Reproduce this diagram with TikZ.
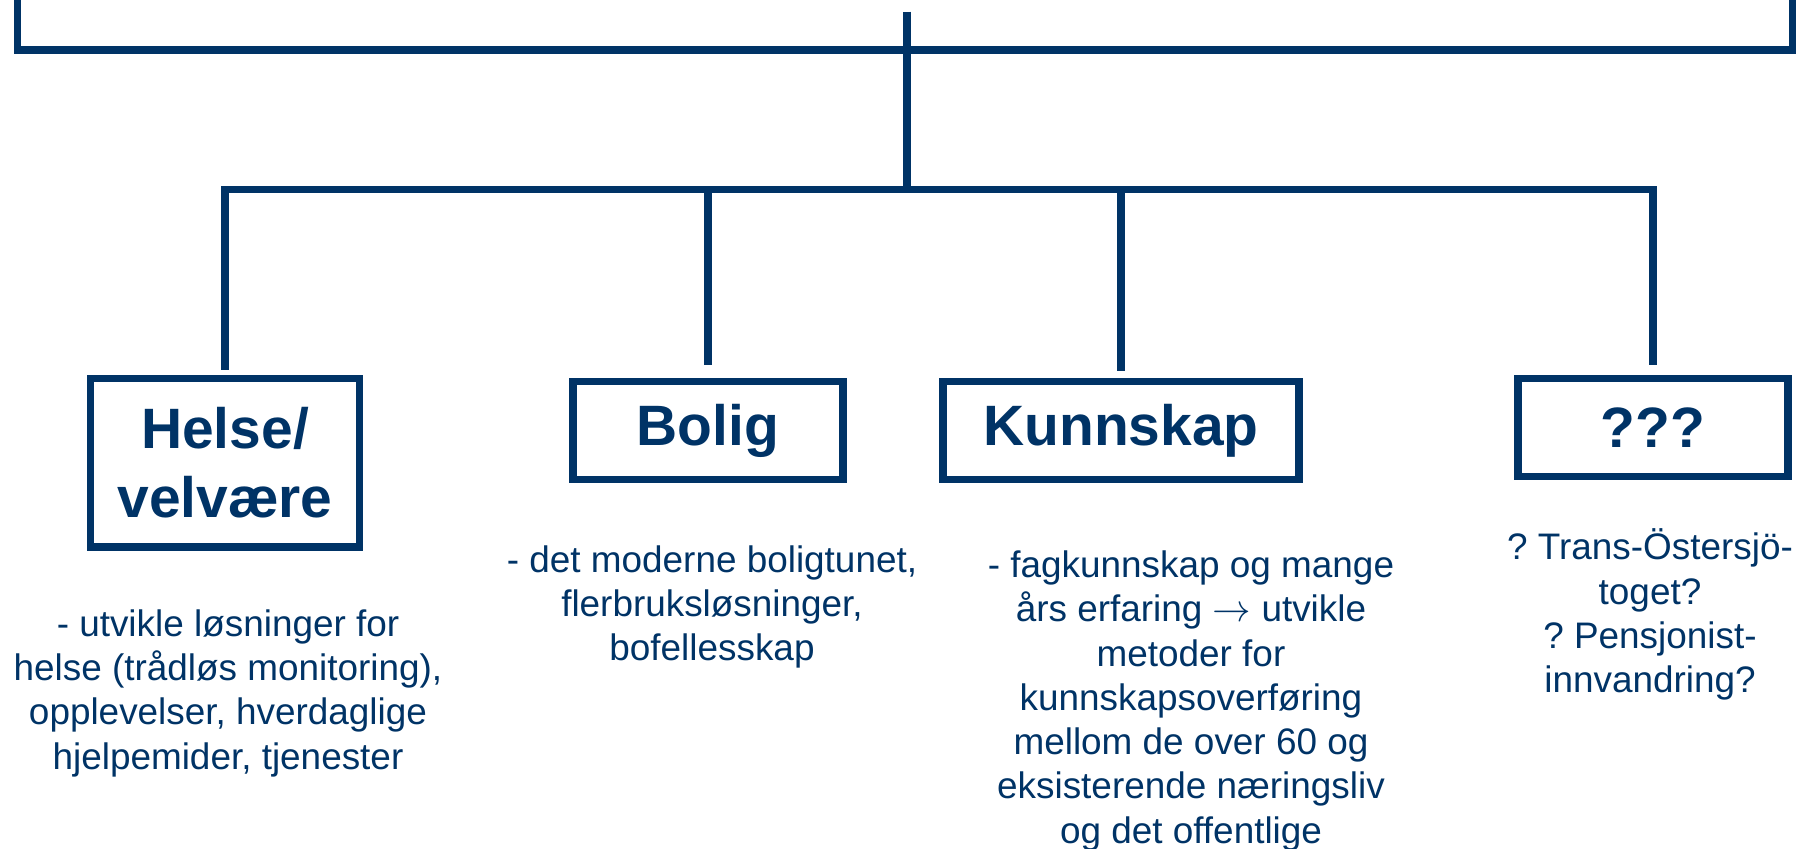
\documentclass[tikz,border=0pt]{standalone}
\usepackage{fontspec}
\setmainfont{Liberation Sans}
\usetikzlibrary{positioning,calc}
\definecolor{navy}{HTML}{003366}

\begin{document}
\frenchspacing
\begin{tikzpicture}[line width=2.1pt, color=navy,
  box/.style={draw, rectangle, inner sep=0pt, outer sep=0pt, minimum height=0.98cm,
    align=center, font=\fontsize{16.2pt}{19.6pt}\bfseries},
  desc/.style={anchor=north, align=center, inner sep=0pt,
    font=\fontsize{10.5pt}{12.6pt}\selectfont}]
\useasboundingbox (0,0) rectangle (17.97,-8.49);
\clip (0,0) rectangle (17.97,-8.49);
\node[box, minimum width=17.75cm, minimum height=1.5cm, anchor=south] (top) at (9.05,-0.50) {};
\coordinate (stem) at (9.07,-0.117);
\coordinate (bus) at (9.07,-1.895);
\node[box, minimum width=2.69cm, minimum height=1.687cm] (helse) at (2.25,-4.627) {Helse/\\velvære};
\node[box, minimum width=2.70cm] (bolig) at (7.08,-4.305) {Bolig};
\node[box, minimum width=3.56cm] (kunnskap) at (11.21,-4.305) {Kunnskap};
\node[box, minimum width=2.70cm] (ukjent) at (16.53,-4.273) {???};
\draw (stem) -- (bus);
\draw[line cap=rect] (helse.north |- bus) -- (ukjent.north |- bus);
\foreach \b/\gap in {helse/0.083cm,bolig/0.165cm,kunnskap/0.105cm,ukjent/0.132cm} {
  \draw[shorten >=\gap] (\b.north |- bus) -- (\b.north);
}
\node[desc] (helsetxt) at (2.28,-6.06) {- utvikle løsninger for\\helse (trådløs monitoring),\\opplevelser, hverdaglige\\hjelpemider, tjenester};
\node[desc] (boligtxt) at (7.12,-5.42) {- det moderne boligtunet,\\flerbruksløsninger,\\bofellesskap};
\node[desc] (kunnskaptxt) at (11.91,-5.47) {- fagkunnskap og mange\\års erfaring $\rightarrow$ utvikle\\metoder for\\kunnskapsoverføring\\mellom de over 60 og\\eksisterende næringsliv\\og det offentlige};
\node[desc] (ukjenttxt) at (16.50,-5.252) {? Trans-Östersjö-\\toget?\\? Pensjonist-\\innvandring?};
\end{tikzpicture}
\end{document}
